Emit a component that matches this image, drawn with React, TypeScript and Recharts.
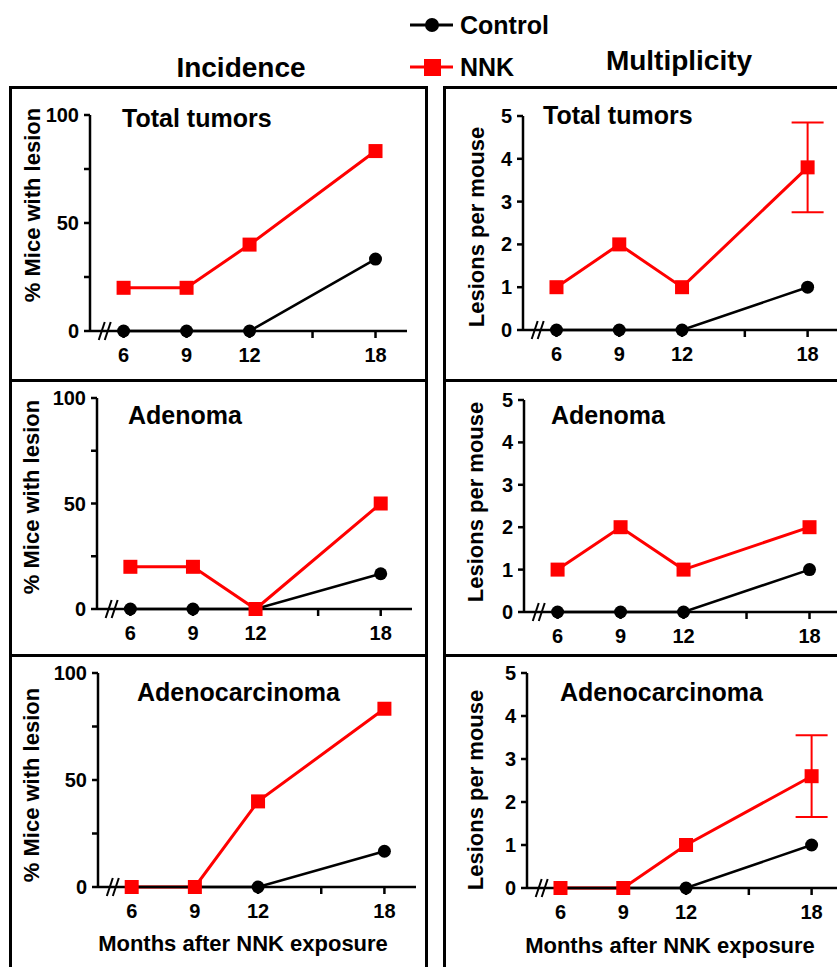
import { LineChart, Line, XAxis, YAxis, ErrorBar, ReferenceDot } from "recharts"

const FONT = "'Liberation Sans', Arial, Helvetica, sans-serif"
const RED = "#ff0000"

// months after NNK exposure
const months = [6, 9, 12, 18]
const monthTicks = [6, 9, 12, 15, 18]
const pctTicks = [0, 25, 50, 75, 100]
const lesionTicks = [0, 1, 2, 3, 4, 5]

// incidence (% mice with lesion)
const incTotalControl = [0, 0, 0, 33.3]
const incTotalNNK = [20, 20, 40, 83.3]
const incAdenomaControl = [0, 0, 0, 16.7]
const incAdenomaNNK = [20, 20, 0, 50]
const incCarcControl = [0, 0, 0, 16.7]
const incCarcNNK = [0, 0, 40, 83.3]

// multiplicity (lesions per mouse)
const mulTotalControl = [0, 0, 0, 1]
const mulTotalNNK = [1, 2, 1, 3.8]
const mulTotalErr = [0, 0, 0, 1.05]
const mulAdenomaControl = [0, 0, 0, 1]
const mulAdenomaNNK = [1, 2, 1, 2]
const mulCarcControl = [0, 0, 0, 1]
const mulCarcNNK = [0, 0, 1, 2.6]
const mulCarcErr = [0, 0, 0, 0.95]

const YW = 80
const MT = 14
const MR = 10
const XH = 72

const circleDot = (p: any) =>
  p.cy == null ? <g key={`c${p.index}`} /> : <circle key={`c${p.index}`} cx={p.cx} cy={p.cy} r={6.5} fill="#000" />

const squareDot = (p: any) =>
  p.cy == null ? <g key={`s${p.index}`} /> : (
    <rect key={`s${p.index}`} x={p.cx - 7} y={p.cy - 7} width={14} height={14} fill={RED} />
  )

function BreakMark(props: any) {
  const { cx, cy } = props
  return (
    <g stroke="#000" strokeWidth={2}>
      <line x1={cx - 7} y1={cy + 9} x2={cx - 1} y2={cy - 9} />
      <line x1={cx - 1} y1={cy + 9} x2={cx + 5} y2={cy - 9} />
    </g>
  )
}

function XTick(p: any) {
  const v = p.payload.value
  return (
    <text x={p.x} y={p.y} dy="0.72em" textAnchor="middle" fontFamily={FONT} fontWeight="bold" fontSize={20} fill="#000">
      {v === 15 ? "" : v}
    </text>
  )
}

function YTick(p: any) {
  const v = p.payload.value
  const show = !p.pct || v % 50 === 0
  return (
    <text x={p.x} y={p.y} textAnchor="end" dominantBaseline="central" fontFamily={FONT} fontWeight="bold" fontSize={20} fill="#000">
      {show ? v : ""}
    </text>
  )
}

function AxisText({ txt, px, py, rot }: any) {
  return (
    <text
      x={px}
      y={py}
      transform={rot ? `rotate(${rot} ${px} ${py})` : undefined}
      textAnchor="middle"
      dominantBaseline="central"
      fontFamily={FONT}
      fontWeight="bold"
      fontSize={22}
      fill="#000"
    >
      {txt}
    </text>
  )
}

type PanelProps = {
  plotLeft: number
  plotTop: number
  plotW: number
  plotH: number
  control: number[]
  nnk: number[]
  err?: number[]
  pct: boolean
  yLabelAt: [number, number]
  xLabelAt?: [number, number]
}

function Panel({ plotLeft, plotTop, plotW, plotH, control, nnk, err, pct, yLabelAt, xLabelAt }: PanelProps) {
  const left = plotLeft - YW
  const top = plotTop - MT
  const width = YW + plotW + MR
  const height = MT + plotH + XH
  const rows = months.map((m, i) => ({
    month: m,
    control: control[i],
    nnk: nnk[i],
    err: err ? err[i] : 0,
  }))
  const axisStyle = { stroke: "#000", strokeWidth: 2.5 }
  return (
    <div style={{ position: "absolute", left, top }}>
      <LineChart
        width={width}
        height={height}
        data={rows}
        margin={{ top: MT, right: MR, left: 0, bottom: 0 }}
      >
        <XAxis
          dataKey="month"
          type="number"
          domain={[4.4, 19.5]}
          ticks={monthTicks}
          tick={<XTick />}
          axisLine={axisStyle}
          tickLine={axisStyle}
          tickSize={7}
          tickMargin={10}
          height={XH}
          interval={0}
          label={
            xLabelAt ? (
              <AxisText txt="Months after NNK exposure" px={xLabelAt[0] - left} py={xLabelAt[1] - top} />
            ) : undefined
          }
        />
        <YAxis
          type="number"
          domain={pct ? [0, 100] : [0, 5]}
          ticks={pct ? pctTicks : lesionTicks}
          tick={<YTick pct={pct} />}
          axisLine={axisStyle}
          tickLine={axisStyle}
          tickSize={6}
          tickMargin={5}
          width={YW}
          interval={0}
          label={
            <AxisText
              txt={pct ? "% Mice with lesion" : "Lesions per mouse"}
              px={yLabelAt[0] - left}
              py={yLabelAt[1] - top}
              rot={-90}
            />
          }
        />
        <ReferenceDot x={5.15} y={0} r={0} shape={BreakMark} ifOverflow="visible" />
        <Line
          dataKey="control"
          stroke="#000"
          strokeWidth={2.5}
          dot={circleDot}
          activeDot={false}
          isAnimationActive={false}
        />
        <Line
          dataKey="nnk"
          stroke={RED}
          strokeWidth={3}
          dot={squareDot}
          activeDot={false}
          isAnimationActive={false}
        >
          {err && <ErrorBar dataKey="err" width={16} strokeWidth={2} stroke={RED} direction="y" />}
        </Line>
      </LineChart>
    </div>
  )
}

const textStyle = { fontFamily: FONT, fontWeight: "bold" as const, fill: "#000" }

export default function App() {
  return (
    <div
      style={{
        position: "absolute",
        left: 0,
        top: 0,
        width: 837,
        height: 967,
        overflow: "hidden",
        background: "#fff",
      }}
    >
      {/* frames */}
      <div style={{ position: "absolute", left: 9, top: 86, width: 419, height: 1000, border: "3px solid #000", boxSizing: "border-box" }} />
      <div style={{ position: "absolute", left: 443, top: 86, width: 500, height: 1000, border: "3px solid #000", boxSizing: "border-box" }} />
      <div style={{ position: "absolute", left: 9, top: 379, width: 419, height: 3, background: "#000" }} />
      <div style={{ position: "absolute", left: 443, top: 379, width: 400, height: 3, background: "#000" }} />
      <div style={{ position: "absolute", left: 9, top: 654, width: 419, height: 3, background: "#000" }} />
      <div style={{ position: "absolute", left: 443, top: 654, width: 400, height: 3, background: "#000" }} />

      {/* headers, legend, panel titles */}
      <svg width={837} height={967} style={{ position: "absolute", left: 0, top: 0 }}>
        <text x={241} y={67} textAnchor="middle" dominantBaseline="central" fontSize={28} {...textStyle}>Incidence</text>
        <text x={679} y={60} textAnchor="middle" dominantBaseline="central" fontSize={28} {...textStyle}>Multiplicity</text>

        <line x1={410} y1={25} x2={453} y2={25} stroke="#000" strokeWidth={3} />
        <circle cx={432} cy={25} r={7} fill="#000" />
        <text x={460} y={25} dominantBaseline="central" fontSize={25} {...textStyle}>Control</text>
        <line x1={410} y1={67} x2={453} y2={67} stroke={RED} strokeWidth={3} />
        <rect x={424} y={59} width={17} height={17} fill={RED} />
        <text x={460} y={67} dominantBaseline="central" fontSize={25} {...textStyle}>NNK</text>

        <text x={122} y={118} dominantBaseline="central" fontSize={25} {...textStyle}>Total tumors</text>
        <text x={543} y={115} dominantBaseline="central" fontSize={25} {...textStyle}>Total tumors</text>
        <text x={128} y={415} dominantBaseline="central" fontSize={25} {...textStyle}>Adenoma</text>
        <text x={551} y={415} dominantBaseline="central" fontSize={25} {...textStyle}>Adenoma</text>
        <text x={137} y={692} dominantBaseline="central" fontSize={25} {...textStyle}>Adenocarcinoma</text>
        <text x={560} y={692} dominantBaseline="central" fontSize={25} {...textStyle}>Adenocarcinoma</text>
      </svg>

      <Panel plotLeft={90} plotTop={115} plotW={317} plotH={216} control={incTotalControl} nnk={incTotalNNK} pct yLabelAt={[32, 205]} />
      <Panel plotLeft={523} plotTop={116} plotW={316} plotH={214} control={mulTotalControl} nnk={mulTotalNNK} err={mulTotalErr} pct={false} yLabelAt={[476, 227]} />
      <Panel plotLeft={97} plotTop={398} plotW={315} plotH={211} control={incAdenomaControl} nnk={incAdenomaNNK} pct yLabelAt={[31, 497]} />
      <Panel plotLeft={524} plotTop={400} plotW={317} plotH={212} control={mulAdenomaControl} nnk={mulAdenomaNNK} pct={false} yLabelAt={[475, 502]} />
      <Panel plotLeft={98} plotTop={673} plotW={318} plotH={214} control={incCarcControl} nnk={incCarcNNK} pct yLabelAt={[31, 785]} xLabelAt={[243, 943]} />
      <Panel plotLeft={527} plotTop={673} plotW={316} plotH={215} control={mulCarcControl} nnk={mulCarcNNK} err={mulCarcErr} pct={false} yLabelAt={[475, 790]} xLabelAt={[670, 945]} />
    </div>
  )
}
